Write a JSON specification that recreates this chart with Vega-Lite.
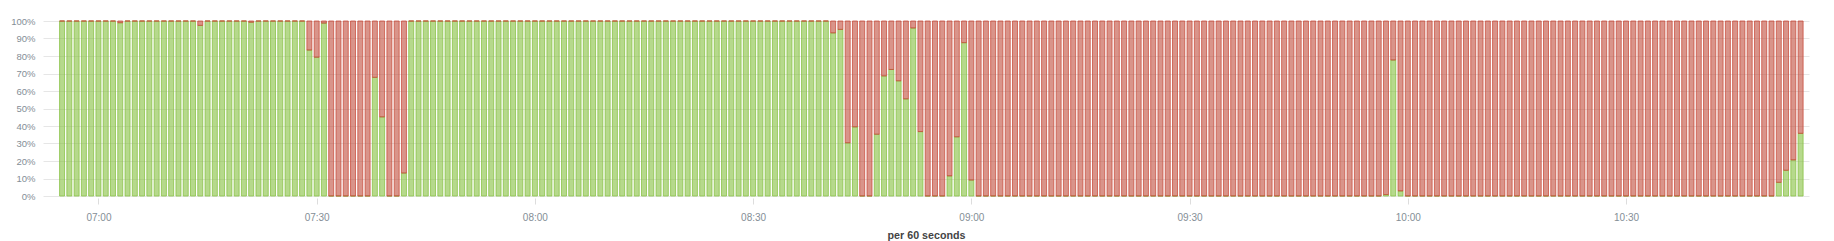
{
  "$schema": "https://vega.github.io/schema/vega-lite/v6.json",
  "autosize": {"type": "none"},
  "padding": {"left": 43, "top": 21, "right": 25, "bottom": 45},
  "width": 1766,
  "height": 175,
  "background": "#ffffff",
  "config": {"view": {"stroke": null}},
  "data": {
    "format": {"parse": {"t": "utc:'%H:%M'"}},
    "values": [
      {"t":"06:55","success":100,"failure":0},{"t":"06:56","success":100,"failure":0},{"t":"06:57","success":100,"failure":0},{"t":"06:58","success":100,"failure":0},{"t":"06:59","success":100,"failure":0},
      {"t":"07:00","success":100,"failure":0},{"t":"07:01","success":100,"failure":0},{"t":"07:02","success":100,"failure":0},{"t":"07:03","success":99,"failure":1},{"t":"07:04","success":100,"failure":0},
      {"t":"07:05","success":100,"failure":0},{"t":"07:06","success":100,"failure":0},{"t":"07:07","success":100,"failure":0},{"t":"07:08","success":100,"failure":0},{"t":"07:09","success":100,"failure":0},
      {"t":"07:10","success":100,"failure":0},{"t":"07:11","success":100,"failure":0},{"t":"07:12","success":100,"failure":0},{"t":"07:13","success":100,"failure":0},{"t":"07:14","success":97.5,"failure":2.5},
      {"t":"07:15","success":100,"failure":0},{"t":"07:16","success":100,"failure":0},{"t":"07:17","success":100,"failure":0},{"t":"07:18","success":100,"failure":0},{"t":"07:19","success":100,"failure":0},
      {"t":"07:20","success":100,"failure":0},{"t":"07:21","success":99.3,"failure":0.7},{"t":"07:22","success":100,"failure":0},{"t":"07:23","success":100,"failure":0},{"t":"07:24","success":100,"failure":0},
      {"t":"07:25","success":100,"failure":0},{"t":"07:26","success":100,"failure":0},{"t":"07:27","success":100,"failure":0},{"t":"07:28","success":100,"failure":0},{"t":"07:29","success":83.4,"failure":16.6},
      {"t":"07:30","success":79.3,"failure":20.7},{"t":"07:31","success":98.8,"failure":1.2},{"t":"07:32","success":0,"failure":100},{"t":"07:33","success":0,"failure":100},{"t":"07:34","success":0,"failure":100},
      {"t":"07:35","success":0,"failure":100},{"t":"07:36","success":0,"failure":100},{"t":"07:37","success":0,"failure":100},{"t":"07:38","success":67.8,"failure":32.2},{"t":"07:39","success":45.2,"failure":54.8},
      {"t":"07:40","success":0,"failure":100},{"t":"07:41","success":0,"failure":100},{"t":"07:42","success":13.1,"failure":86.9},{"t":"07:43","success":100,"failure":0},{"t":"07:44","success":100,"failure":0},
      {"t":"07:45","success":100,"failure":0},{"t":"07:46","success":100,"failure":0},{"t":"07:47","success":100,"failure":0},{"t":"07:48","success":100,"failure":0},{"t":"07:49","success":100,"failure":0},
      {"t":"07:50","success":100,"failure":0},{"t":"07:51","success":100,"failure":0},{"t":"07:52","success":100,"failure":0},{"t":"07:53","success":100,"failure":0},{"t":"07:54","success":100,"failure":0},
      {"t":"07:55","success":100,"failure":0},{"t":"07:56","success":100,"failure":0},{"t":"07:57","success":100,"failure":0},{"t":"07:58","success":100,"failure":0},{"t":"07:59","success":100,"failure":0},
      {"t":"08:00","success":100,"failure":0},{"t":"08:01","success":100,"failure":0},{"t":"08:02","success":100,"failure":0},{"t":"08:03","success":100,"failure":0},{"t":"08:04","success":100,"failure":0},
      {"t":"08:05","success":100,"failure":0},{"t":"08:06","success":100,"failure":0},{"t":"08:07","success":100,"failure":0},{"t":"08:08","success":100,"failure":0},{"t":"08:09","success":100,"failure":0},
      {"t":"08:10","success":100,"failure":0},{"t":"08:11","success":100,"failure":0},{"t":"08:12","success":100,"failure":0},{"t":"08:13","success":100,"failure":0},{"t":"08:14","success":100,"failure":0},
      {"t":"08:15","success":100,"failure":0},{"t":"08:16","success":100,"failure":0},{"t":"08:17","success":100,"failure":0},{"t":"08:18","success":100,"failure":0},{"t":"08:19","success":100,"failure":0},
      {"t":"08:20","success":100,"failure":0},{"t":"08:21","success":100,"failure":0},{"t":"08:22","success":100,"failure":0},{"t":"08:23","success":100,"failure":0},{"t":"08:24","success":100,"failure":0},
      {"t":"08:25","success":100,"failure":0},{"t":"08:26","success":100,"failure":0},{"t":"08:27","success":100,"failure":0},{"t":"08:28","success":100,"failure":0},{"t":"08:29","success":100,"failure":0},
      {"t":"08:30","success":100,"failure":0},{"t":"08:31","success":100,"failure":0},{"t":"08:32","success":100,"failure":0},{"t":"08:33","success":100,"failure":0},{"t":"08:34","success":100,"failure":0},
      {"t":"08:35","success":100,"failure":0},{"t":"08:36","success":100,"failure":0},{"t":"08:37","success":100,"failure":0},{"t":"08:38","success":100,"failure":0},{"t":"08:39","success":100,"failure":0},
      {"t":"08:40","success":100,"failure":0},{"t":"08:41","success":93.2,"failure":6.8},{"t":"08:42","success":95.2,"failure":4.8},{"t":"08:43","success":30.4,"failure":69.6},{"t":"08:44","success":39.5,"failure":60.5},
      {"t":"08:45","success":0,"failure":100},{"t":"08:46","success":0,"failure":100},{"t":"08:47","success":35.3,"failure":64.7},{"t":"08:48","success":68.6,"failure":31.4},{"t":"08:49","success":72.3,"failure":27.7},
      {"t":"08:50","success":65.8,"failure":34.2},{"t":"08:51","success":55.5,"failure":44.5},{"t":"08:52","success":96,"failure":4},{"t":"08:53","success":36.8,"failure":63.2},{"t":"08:54","success":0,"failure":100},
      {"t":"08:55","success":0,"failure":100},{"t":"08:56","success":0,"failure":100},{"t":"08:57","success":11.5,"failure":88.5},{"t":"08:58","success":33.8,"failure":66.2},{"t":"08:59","success":87.6,"failure":12.4},
      {"t":"09:00","success":9.1,"failure":90.9},{"t":"09:01","success":0,"failure":100},{"t":"09:02","success":0,"failure":100},{"t":"09:03","success":0,"failure":100},{"t":"09:04","success":0,"failure":100},
      {"t":"09:05","success":0,"failure":100},{"t":"09:06","success":0,"failure":100},{"t":"09:07","success":0,"failure":100},{"t":"09:08","success":0,"failure":100},{"t":"09:09","success":0,"failure":100},
      {"t":"09:10","success":0,"failure":100},{"t":"09:11","success":0,"failure":100},{"t":"09:12","success":0,"failure":100},{"t":"09:13","success":0,"failure":100},{"t":"09:14","success":0,"failure":100},
      {"t":"09:15","success":0,"failure":100},{"t":"09:16","success":0,"failure":100},{"t":"09:17","success":0,"failure":100},{"t":"09:18","success":0,"failure":100},{"t":"09:19","success":0,"failure":100},
      {"t":"09:20","success":0,"failure":100},{"t":"09:21","success":0,"failure":100},{"t":"09:22","success":0,"failure":100},{"t":"09:23","success":0,"failure":100},{"t":"09:24","success":0,"failure":100},
      {"t":"09:25","success":0,"failure":100},{"t":"09:26","success":0,"failure":100},{"t":"09:27","success":0,"failure":100},{"t":"09:28","success":0,"failure":100},{"t":"09:29","success":0,"failure":100},
      {"t":"09:30","success":0,"failure":100},{"t":"09:31","success":0,"failure":100},{"t":"09:32","success":0,"failure":100},{"t":"09:33","success":0,"failure":100},{"t":"09:34","success":0,"failure":100},
      {"t":"09:35","success":0,"failure":100},{"t":"09:36","success":0,"failure":100},{"t":"09:37","success":0,"failure":100},{"t":"09:38","success":0,"failure":100},{"t":"09:39","success":0,"failure":100},
      {"t":"09:40","success":0,"failure":100},{"t":"09:41","success":0,"failure":100},{"t":"09:42","success":0,"failure":100},{"t":"09:43","success":0,"failure":100},{"t":"09:44","success":0,"failure":100},
      {"t":"09:45","success":0,"failure":100},{"t":"09:46","success":0,"failure":100},{"t":"09:47","success":0,"failure":100},{"t":"09:48","success":0,"failure":100},{"t":"09:49","success":0,"failure":100},
      {"t":"09:50","success":0,"failure":100},{"t":"09:51","success":0,"failure":100},{"t":"09:52","success":0,"failure":100},{"t":"09:53","success":0,"failure":100},{"t":"09:54","success":0,"failure":100},
      {"t":"09:55","success":0,"failure":100},{"t":"09:56","success":0,"failure":100},{"t":"09:57","success":0.8,"failure":99.2},{"t":"09:58","success":77.7,"failure":22.3},{"t":"09:59","success":2.9,"failure":97.1},
      {"t":"10:00","success":0,"failure":100},{"t":"10:01","success":0,"failure":100},{"t":"10:02","success":0,"failure":100},{"t":"10:03","success":0,"failure":100},{"t":"10:04","success":0,"failure":100},
      {"t":"10:05","success":0,"failure":100},{"t":"10:06","success":0,"failure":100},{"t":"10:07","success":0,"failure":100},{"t":"10:08","success":0,"failure":100},{"t":"10:09","success":0,"failure":100},
      {"t":"10:10","success":0,"failure":100},{"t":"10:11","success":0,"failure":100},{"t":"10:12","success":0,"failure":100},{"t":"10:13","success":0,"failure":100},{"t":"10:14","success":0,"failure":100},
      {"t":"10:15","success":0,"failure":100},{"t":"10:16","success":0,"failure":100},{"t":"10:17","success":0,"failure":100},{"t":"10:18","success":0,"failure":100},{"t":"10:19","success":0,"failure":100},
      {"t":"10:20","success":0,"failure":100},{"t":"10:21","success":0,"failure":100},{"t":"10:22","success":0,"failure":100},{"t":"10:23","success":0,"failure":100},{"t":"10:24","success":0,"failure":100},
      {"t":"10:25","success":0,"failure":100},{"t":"10:26","success":0,"failure":100},{"t":"10:27","success":0,"failure":100},{"t":"10:28","success":0,"failure":100},{"t":"10:29","success":0,"failure":100},
      {"t":"10:30","success":0,"failure":100},{"t":"10:31","success":0,"failure":100},{"t":"10:32","success":0,"failure":100},{"t":"10:33","success":0,"failure":100},{"t":"10:34","success":0,"failure":100},
      {"t":"10:35","success":0,"failure":100},{"t":"10:36","success":0,"failure":100},{"t":"10:37","success":0,"failure":100},{"t":"10:38","success":0,"failure":100},{"t":"10:39","success":0,"failure":100},
      {"t":"10:40","success":0,"failure":100},{"t":"10:41","success":0,"failure":100},{"t":"10:42","success":0,"failure":100},{"t":"10:43","success":0,"failure":100},{"t":"10:44","success":0,"failure":100},
      {"t":"10:45","success":0,"failure":100},{"t":"10:46","success":0,"failure":100},{"t":"10:47","success":0,"failure":100},{"t":"10:48","success":0,"failure":100},{"t":"10:49","success":0,"failure":100},
      {"t":"10:50","success":0,"failure":100},{"t":"10:51","success":7.8,"failure":92.2},{"t":"10:52","success":14.7,"failure":85.3},{"t":"10:53","success":20.6,"failure":79.4},{"t":"10:54","success":35.8,"failure":64.2}
    ]
  },
  "transform": [{"fold": ["success", "failure"], "as": ["status", "pct"]}],
  "mark": {"type": "bar", "width": 5, "fillOpacity": 0.6, "strokeWidth": 1, "strokeOpacity": 0.75},
  "encoding": {
    "x": {
      "field": "t",
      "type": "temporal",
      "scale": {
        "type": "utc",
        "domain": [
          {"year": 1900, "month": 1, "date": 1, "hours": 6, "minutes": 53, "seconds": 4, "utc": true},
          {"year": 1900, "month": 1, "date": 1, "hours": 10, "minutes": 54, "seconds": 28, "utc": true}
        ]
      },
      "axis": {
        "values": [
          {"year": 1900, "month": 1, "date": 1, "hours": 7, "minutes": 0, "utc": true},
          {"year": 1900, "month": 1, "date": 1, "hours": 7, "minutes": 30, "utc": true},
          {"year": 1900, "month": 1, "date": 1, "hours": 8, "minutes": 0, "utc": true},
          {"year": 1900, "month": 1, "date": 1, "hours": 8, "minutes": 30, "utc": true},
          {"year": 1900, "month": 1, "date": 1, "hours": 9, "minutes": 0, "utc": true},
          {"year": 1900, "month": 1, "date": 1, "hours": 9, "minutes": 30, "utc": true},
          {"year": 1900, "month": 1, "date": 1, "hours": 10, "minutes": 0, "utc": true},
          {"year": 1900, "month": 1, "date": 1, "hours": 10, "minutes": 30, "utc": true}
        ],
        "format": "%H:%M",
        "grid": false,
        "domain": false,
        "ticks": true,
        "tickColor": "#dddddd",
        "tickSize": 6,
        "offset": 2,
        "labelFont": "Liberation Sans",
        "labelFontSize": 10,
        "labelColor": "#848e96",
        "labelPadding": 8.5,
        "title": "per 60 seconds",
        "titleFont": "Liberation Sans",
        "titleFontSize": 10.7,
        "titleFontWeight": "bold",
        "titleColor": "#444444",
        "titleBaseline": "alphabetic",
        "titleY": 40
      }
    },
    "y": {
      "field": "pct",
      "type": "quantitative",
      "stack": "normalize",
      "scale": {"domain": [0, 1], "nice": false},
      "axis": {
        "values": [0, 0.1, 0.2, 0.3, 0.4, 0.5, 0.6, 0.7, 0.8, 0.9, 1],
        "format": ".0%",
        "title": null,
        "domain": false,
        "ticks": false,
        "grid": true,
        "gridColor": "#e6e6e6",
        "labelFont": "Liberation Sans",
        "labelFontSize": 9.5,
        "labelColor": "#848e96",
        "labelPadding": 8
      }
    },
    "color": {
      "field": "status",
      "type": "nominal",
      "scale": {"domain": ["success", "failure"], "range": ["#85c040", "#c04d3c"]},
      "legend": null
    },
    "stroke": {
      "field": "status",
      "type": "nominal",
      "scale": {"domain": ["success", "failure"], "range": ["#85c040", "#c84a38"]},
      "legend": null
    },
    "order": {"field": "status", "sort": "descending"}
  }
}
